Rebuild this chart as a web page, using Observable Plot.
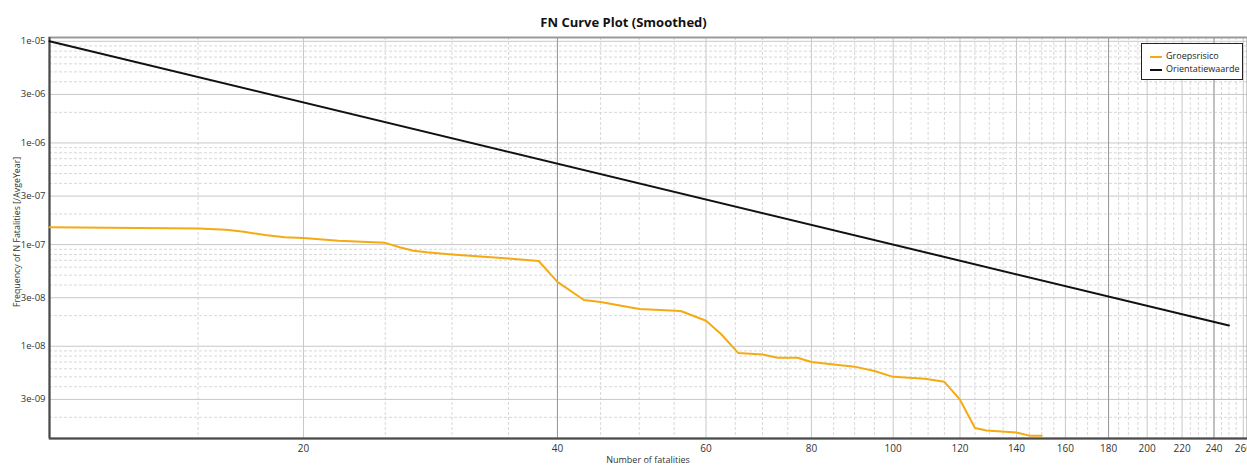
<!DOCTYPE html>
<html>
<head>
<meta charset="utf-8">
<script src="https://cdn.jsdelivr.net/npm/d3@7"></script>
<script src="https://cdn.jsdelivr.net/npm/@observablehq/plot@0.6"></script>
<style>
  html, body { margin: 0; padding: 0; background: #fff; }
  body { width: 1247px; height: 465px; position: relative; overflow: hidden; font-family: "Open Sans", "DejaVu Sans", sans-serif; }
  #title { position: absolute; left: 0; top: 13px; width: 1247px; text-align: center; font-weight: bold; font-size: 13px; color: #111; }
  #chart { position: absolute; left: 0; top: 30px; }
  #xlabel { position: absolute; left: 49px; width: 1198px; top: 453px; text-align: center; font-size: 9px; color: #333; }
  #ylabel { position: absolute; left: 17px; top: 232px; transform: translate(-50%, -50%) rotate(-90deg); white-space: nowrap; font-size: 8.8px; color: #333; }
  #legend { position: absolute; left: 1141px; top: 43px; width: 100px; height: 35px; border: 1px solid #222; background: #fff; font-size: 9px; color: #222; }
  .item { position: absolute; left: 8px; height: 12px; line-height: 12px; white-space: nowrap; }
  .swatch { display: inline-block; width: 12px; height: 2px; vertical-align: middle; margin-right: 4px; }
</style>
</head>
<body>
<div id="title">FN Curve Plot (Smoothed)</div>
<div id="chart"></div>
<div id="xlabel">Number of fatalities</div>
<div id="ylabel">Frequency of N Fatalities [/AvgeYear]</div>
<div id="legend">
  <div class="item" style="top:6px"><span class="swatch" style="background:#f5aa14"></span>Groepsrisico</div>
  <div class="item" style="top:19px"><span class="swatch" style="background:#111"></span>Orientatiewaarde</div>
</div>
<script>
// Groepsrisico (FN curve)
const groepsN = [10, 15, 16.2, 17, 18, 19, 20, 22, 25, 26, 27, 28, 30, 35, 38, 40, 43, 45, 50, 56, 60, 62.5, 65.5, 70, 73, 77, 80, 85, 90, 95, 100, 109, 115, 120, 125, 129, 140, 145, 150];
const groepsF = [1.48e-7, 1.44e-7, 1.40e-7, 1.34e-7, 1.24e-7, 1.18e-7, 1.16e-7, 1.09e-7, 1.04e-7, 9.4e-8, 8.7e-8, 8.4e-8, 8.0e-8, 7.3e-8, 6.9e-8, 4.3e-8, 2.85e-8, 2.73e-8, 2.33e-8, 2.22e-8, 1.78e-8, 1.32e-8, 8.6e-9, 8.3e-9, 7.7e-9, 7.7e-9, 7.0e-9, 6.6e-9, 6.3e-9, 5.7e-9, 5.0e-9, 4.8e-9, 4.47e-9, 2.98e-9, 1.57e-9, 1.48e-9, 1.42e-9, 1.32e-9, 1.32e-9];
// Orientatiewaarde (straight line on log-log axes)
const orientN = [10, 250];
const orientF = [1e-5, 1.6e-8];

// Tick labels
const xTicks = [20, 40, 60, 80, 100, 120, 140, 160, 180, 200, 220, 240, 260];
const yTicks = [1e-5, 3e-6, 1e-6, 3e-7, 1e-7, 3e-8, 1e-8, 3e-9];
const yTickLabels = ["1e-05", "3e-06", "1e-06", "3e-07", "1e-07", "3e-08", "1e-08", "3e-09"];

// Grid lines
const xDark = [40, 180];
const xMid = [240];
const xMinor = [15, 25, 30, 35, 45, 50, 55, 65, 70, 75, 85, 90, 95, 105, 110, 115, 125, 130, 135, 145, 150, 155, 165, 170, 175, 185, 190, 195, 205, 210, 215, 225, 230, 235, 245, 250, 255];
const yMinorMult = [2, 4, 5, 6, 7, 8, 9];
const yDecades = [1e-9, 1e-8, 1e-7, 1e-6];
const yMinor = yDecades.flatMap(d => yMinorMult.map(m => m * d));

const groeps = groepsN.map((n, i) => ({n, f: groepsF[i]}));
const orient = orientN.map((n, i) => ({n, f: orientF[i]}));
const yLabelRows = yTicks.map((v, i) => ({v, t: yTickLabels[i]}));

const yMin = 1.237e-9, yMax = 1.09e-5;

const chart = Plot.plot({
  width: 1247,
  height: 435,
  marginLeft: 49,
  marginRight: 0,
  marginTop: 7,
  marginBottom: 27,
  style: {fontFamily: "'Open Sans', 'DejaVu Sans', sans-serif", fontSize: "10px", color: "#333", background: "transparent"},
  x: {type: "log", domain: [10, 263], axis: null},
  y: {type: "log", domain: [yMin, yMax], axis: null},
  marks: [
    Plot.ruleY(yMinor, {stroke: "#d8d8d8", strokeDasharray: "3,2"}),
    Plot.ruleX(xMinor, {stroke: "#d8d8d8", strokeDasharray: "3,2"}),
    Plot.ruleY(yTicks, {stroke: "#c8c8c8"}),
    Plot.ruleX(xTicks, {stroke: "#c8c8c8"}),
    Plot.ruleX(xMid, {stroke: "#b4b4b4", strokeWidth: 1.5}),
    Plot.ruleX(xDark, {stroke: "#9a9a9a"}),
    Plot.frame({stroke: "#9a9a9a", strokeWidth: 2}),
    Plot.ruleX([10], {stroke: "#4a4a4a", strokeWidth: 2}),
    Plot.ruleY([yMin], {stroke: "#4a4a4a", strokeWidth: 2}),
    Plot.line(groeps, {x: "n", y: "f", stroke: "#f5aa14", strokeWidth: 2}),
    Plot.line(orient, {x: "n", y: "f", stroke: "#111", strokeWidth: 2}),
    Plot.text(yLabelRows, {y: "v", text: "t", frameAnchor: "left", textAnchor: "end", dx: -4, fontSize: 9.5, fill: "#333"}),
    Plot.axisX({ticks: xTicks, tickFormat: d => String(d), tickSize: 0, tickPadding: 6, label: null, fontSize: 10})
  ]
});
document.getElementById("chart").appendChild(chart);
</script>
</body>
</html>
